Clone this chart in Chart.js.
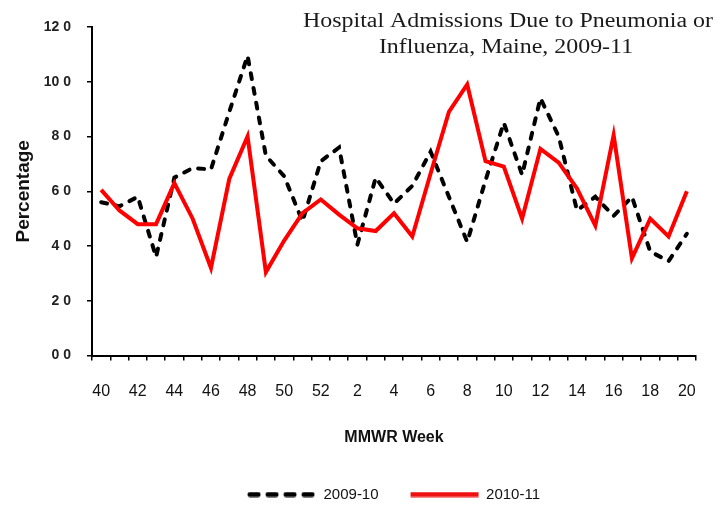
<!DOCTYPE html>
<html lang="en">
<head>
  <meta charset="UTF-8">
  <title>Hospital Admissions Due to Pneumonia or Influenza, Maine, 2009-11</title>
  <script src="https://cdn.jsdelivr.net/npm/chart.js"></script>
  <style>
    html, body { margin: 0; padding: 0; background: #fff; }
    #wrap { width: 723px; height: 506px; }
  </style>
</head>
<body>
  <div id="wrap"><canvas id="pniChart"></canvas></div>

  <script>
    // MMWR weeks, season runs week 40 through week 20
    const weeks = [40, 41, 42, 43, 44, 45, 46, 47, 48, 49, 50, 51, 52,
                   1, 2, 3, 4, 5, 6, 7, 8, 9, 10, 11, 12, 13, 14, 15, 16, 17, 18, 19, 20];

    // percentage of admissions, per week
    const season0910 = [5.6, 5.45, 5.8, 3.6, 6.5, 6.85, 6.8, 8.9, 10.95, 7.3, 6.55, 4.9, 7.1,
                        7.6, 4.05, 6.5, 5.55, 6.2, 7.45, 5.8, 4.15, 6.4, 8.5, 6.6, 9.4, 8.0,
                        5.3, 5.8, 5.1, 5.8, 3.8, 3.45, 4.45];
    const season1011 = [6.05, 5.3, 4.8, 4.8, 6.3, 5.0, 3.2, 6.45, 8.0, 3.05, 4.2, 5.2, 5.7,
                        5.15, 4.65, 4.55, 5.2, 4.35, 6.65, 8.9, 9.9, 7.1, 6.9, 5.0, 7.55, 7.05,
                        6.1, 4.75, 8.05, 3.55, 5.0, 4.35, 6.0];

    const yTickLabels = ['0 0', '2 0', '4 0', '6 0', '8 0', '10 0', '12 0'];
    const titleLines = ['Hospital Admissions Due to Pneumonia or', 'Influenza, Maine, 2009-11'];

    const sans = "'Liberation Sans', Arial, sans-serif";

    // legend swatches: a long dashed stroke and a long solid stroke
    function swatch(color, dash) {
      const c = document.createElement('canvas');
      c.width = 70;
      c.height = 6;
      const g = c.getContext('2d');
      g.strokeStyle = color;
      g.lineWidth = 5;
      g.lineCap = dash ? 'round' : 'butt';
      g.setLineDash(dash || []);
      g.beginPath();
      g.moveTo(dash ? 3 : 1, 3);
      g.lineTo(dash ? 67 : 69, 3);
      g.stroke();
      return c;
    }

    // two-line serif title sitting over the top right of the plot
    const titlePlugin = {
      id: 'cornerTitle',
      afterDraw(chart) {
        const ctx = chart.ctx;
        ctx.save();
        ctx.font = "20px 'Liberation Serif', 'Times New Roman', serif";
        ctx.fillStyle = '#1a1a1a';
        ctx.textAlign = 'center';
        ctx.textBaseline = 'alphabetic';
        const sx = 410 / ctx.measureText(titleLines[0]).width;
        ctx.translate(508, 0);
        ctx.scale(sx, 1);
        ctx.fillText(titleLines[0], 0, 27);
        ctx.fillText(titleLines[1], -2 / sx, 53);
        ctx.restore();
      }
    };

    const ctx = document.getElementById('pniChart').getContext('2d');
    new Chart(ctx, {
      type: 'line',
      data: {
        labels: weeks,
        datasets: [
          {
            label: '2009-10',
            data: season0910,
            borderColor: '#000',
            backgroundColor: '#000',
            borderWidth: 4,
            borderDash: [6, 9],
            borderCapStyle: 'round',
            pointRadius: 0,
            pointStyle: swatch('#000', [8, 10]),
            tension: 0,
            order: 1
          },
          {
            label: '2010-11',
            data: season1011,
            borderColor: '#ff0000',
            backgroundColor: '#ff0000',
            borderWidth: 4,
            pointRadius: 0,
            pointStyle: swatch('#ee1111'),
            tension: 0,
            order: 0
          }
        ]
      },
      options: {
        responsive: true,
        maintainAspectRatio: false,
        animation: false,
        layout: { padding: { top: 27, right: 27, left: 10, bottom: -6 } },
        plugins: {
          title: { display: false },
          tooltip: { enabled: false },
          legend: {
            position: 'bottom',
            fullSize: false,
            labels: {
              usePointStyle: true,
              pointStyleWidth: 68,
              padding: 32,
              color: '#111',
              font: { family: sans, size: 15 },
              sort: (a, b) => a.datasetIndex - b.datasetIndex
            }
          }
        },
        scales: {
          x: {
            offset: true,
            grid: {
              offset: true,
              drawOnChartArea: false,
              color: '#000',
              lineWidth: 1.5,
              tickLength: 5
            },
            border: { color: '#000', width: 2 },
            ticks: {
              autoSkip: false,
              maxRotation: 0,
              padding: 21,
              color: '#111',
              font: { family: sans, size: 16 },
              callback: (v, i) => (i % 2 === 0 ? String(weeks[i]) : '')
            },
            title: {
              display: true,
              text: 'MMWR Week',
              color: '#111',
              font: { family: sans, size: 16, weight: 'bold' },
              padding: { top: 6, bottom: 8 }
            }
          },
          y: {
            min: 0,
            max: 12,
            grid: {
              drawOnChartArea: false,
              color: '#000',
              lineWidth: 1.5,
              tickLength: 5
            },
            border: { color: '#000', width: 2 },
            ticks: {
              stepSize: 2,
              padding: 16,
              color: '#222',
              font: { family: sans, size: 14, weight: 'bold' },
              callback: v => yTickLabels[v / 2]
            },
            title: {
              display: true,
              text: 'Percentage',
              color: '#111',
              font: { family: sans, size: 19, weight: 'bold' },
              padding: { top: 2, bottom: 0 }
            },
            afterFit: scale => { scale.width = 82; }
          }
        }
      },
      plugins: [titlePlugin]
    });
  </script>
</body>
</html>
